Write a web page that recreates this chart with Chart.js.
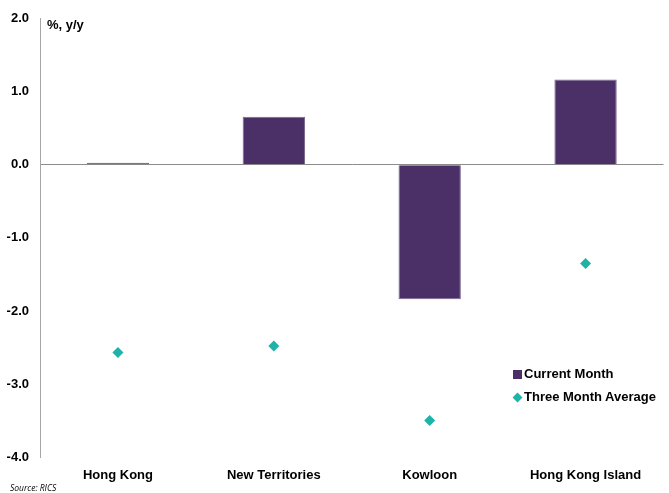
<!DOCTYPE html>
<html>
<head>
<meta charset="utf-8">
<script src="https://cdn.jsdelivr.net/npm/chart.js@4"></script>
<style>
html,body{margin:0;padding:0;background:#fff;}
#wrap{position:relative;width:669px;height:493px;font-family:"Liberation Sans",Arial,sans-serif;}
canvas{position:absolute;left:0;top:0;}
.lbl{position:absolute;white-space:nowrap;color:#000;}
#unit{left:47px;top:17px;font-weight:bold;font-size:13px;}
#src{left:10px;top:482px;font-style:italic;font-size:8.5px;font-family:"Open Sans","Liberation Sans",sans-serif;}
.leg{position:absolute;font-weight:bold;font-size:13px;white-space:nowrap;}
.sq{position:absolute;width:9px;height:9px;background:#4B3068;}
.dm{position:absolute;width:7px;height:7px;background:#1FB3A8;transform:rotate(45deg);}
</style>
</head>
<body>
<div id="wrap">
<canvas id="c" width="669" height="493"></canvas>
<div class="lbl" id="unit">%, y/y</div>
<div class="lbl" id="src">Source: RICS</div>
<div class="sq" style="left:513px;top:370px;"></div>
<div class="leg" style="left:524px;top:366px;">Current Month</div>
<div class="dm" style="left:514px;top:394px;"></div>
<div class="leg" style="left:524px;top:389px;">Three Month Average</div>
</div>
<script>
const categories = ["Hong Kong", "New Territories", "Kowloon", "Hong Kong Island"];
const currentMonth = [0.03, 0.66, -1.84, 1.17];
const threeMonthAverage = [-2.57, -2.48, -3.50, -1.35];
const yTicks = [2, 1, 0, -1, -2, -3, -4];

new Chart(document.getElementById('c'), {
  type: 'bar',
  data: {
    labels: categories,
    datasets: [
      {
        type: 'line',
        label: 'Three Month Average',
        data: threeMonthAverage,
        showLine: false,
        pointStyle: 'rectRot',
        pointRadius: 5.5,
        pointBackgroundColor: '#1FB3A8',
        pointBorderColor: '#1FB3A8',
        pointBorderWidth: 0,
        order: 0
      },
      {
        label: 'Current Month',
        data: currentMonth,
        backgroundColor: '#4B3068',
        borderColor: '#7A6891',
        borderWidth: 1,
        categoryPercentage: 1,
        barPercentage: 0.4,
        order: 1
      }
    ]
  },
  options: {
    responsive: false,
    animation: false,
    layout: { padding: { left: 0, right: 4, top: 8, bottom: 0 } },
    plugins: { legend: { display: false }, tooltip: { enabled: false } },
    scales: {
      x: {
        grid: { display: false },
        border: { display: false },
        ticks: {
          color: '#000',
          padding: 3,
          maxRotation: 0,
          font: { family: '"Liberation Sans", Arial, sans-serif', size: 13, weight: 'bold' }
        },
        afterFit: s => { s.height = 36; }
      },
      y: {
        min: -4,
        max: 2,
        afterBuildTicks: s => { s.ticks = yTicks.map(v => ({ value: v })); },
        grid: {
          drawTicks: false,
          lineWidth: 1,
          color: ctx => (ctx.tick && ctx.tick.value === 0) ? '#8C8C8C' : 'rgba(0,0,0,0)'
        },
        border: { display: true, color: '#A6A6A6', width: 1 },
        ticks: {
          color: '#000',
          padding: 11,
          callback: v => Number(v).toFixed(1),
          font: { family: '"Liberation Sans", Arial, sans-serif', size: 13, weight: 'bold' }
        },
        afterFit: s => { s.width = 40; }
      }
    }
  }
});
</script>
</body>
</html>
